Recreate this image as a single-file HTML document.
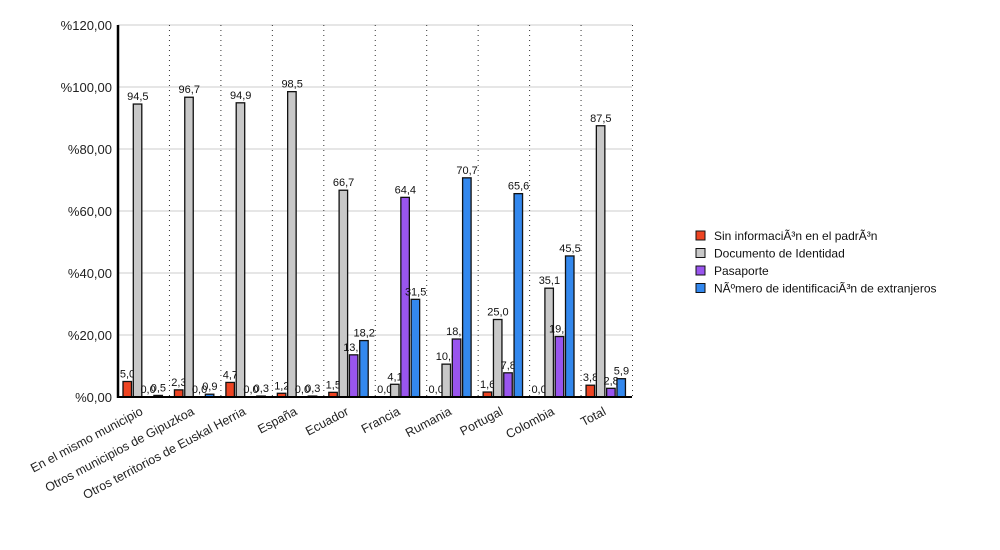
<!DOCTYPE html>
<html><head><meta charset="utf-8"><style>body{margin:0;background:#fff}svg{display:block;font-family:"Liberation Sans",sans-serif}</style></head>
<body><svg id="s" width="1000" height="550" xmlns="http://www.w3.org/2000/svg"></svg>
<script>
const s=document.getElementById('s');let h='';
const x0=118,cw=51.45,y0=397,py=3.1;
for(let i=0;i<=6;i++){const y=y0-i*62;h+=`<line x1="${x0}" y1="${y}" x2="632" y2="${y}" stroke="#ccc"/>`;
h+=`<text x="112" y="${y+5}" text-anchor="end" font-size="13" fill="#222">%${(i*20)},00</text>`;}
for(let i=1;i<=10;i++){const x=x0+i*cw;h+=`<line x1="${x}" y1="25" x2="${x}" y2="${y0}" stroke="#333" stroke-dasharray="1,4"/>`;}
const cats=["En el mismo municipio","Otros municipios de Gipuzkoa","Otros territorios de Euskal Herria","España","Ecuador","Francia","Rumania","Portugal","Colombia","Total"];
const d=[[5.0,94.5,0.0,0.5],[2.3,96.7,0.0,0.9],[4.7,94.9,0.0,0.3],[1.2,98.5,0.0,0.3],[1.5,66.7,13.6,18.2],[0.0,4.1,64.4,31.5],[0.0,10.6,18.7,70.7],[1.6,25.0,7.8,65.6],[0.0,35.1,19.5,45.5],[3.8,87.5,2.8,5.9]];
const col=["#ee4422","#c8c8c8","#9955ee","#3388ee"];
d.forEach((r,i)=>{r.forEach((v,j)=>{const x=x0+i*cw+5+j*10.3,hh=v*py,y=y0-hh;
if(v>0)h+=`<rect x="${x}" y="${y}" width="8.5" height="${hh}" fill="${col[j]}" stroke="#111" stroke-width="1.3"/>`;
h+=`<text x="${x+4.5}" y="${y-4}" text-anchor="middle" font-size="11" fill="#111">${v.toFixed(1).replace('.',',')}</text>`;});
const cx=x0+i*cw+cw/2;h+=`<text transform="translate(${cx},414) rotate(-28)" text-anchor="end" font-size="12.5" fill="#222">${cats[i]}</text>`;});
h+=`<line x1="${x0}" y1="25" x2="${x0}" y2="${y0+1}" stroke="#000" stroke-width="2.5"/><line x1="${x0}" y1="${y0}" x2="632" y2="${y0}" stroke="#000" stroke-width="2"/>`;
const lg=["Sin informaciÃ³n en el padrÃ³n","Documento de Identidad","Pasaporte","NÃºmero de identificaciÃ³n de extranjeros"];
lg.forEach((t,j)=>{const y=231+j*17.5;h+=`<rect x="696" y="${y}" width="9" height="9" fill="${col[j]}" stroke="#111"/><text x="714" y="${y+9}" font-size="12" fill="#111">${t}</text>`;});
s.innerHTML=h;
</script></body></html>
